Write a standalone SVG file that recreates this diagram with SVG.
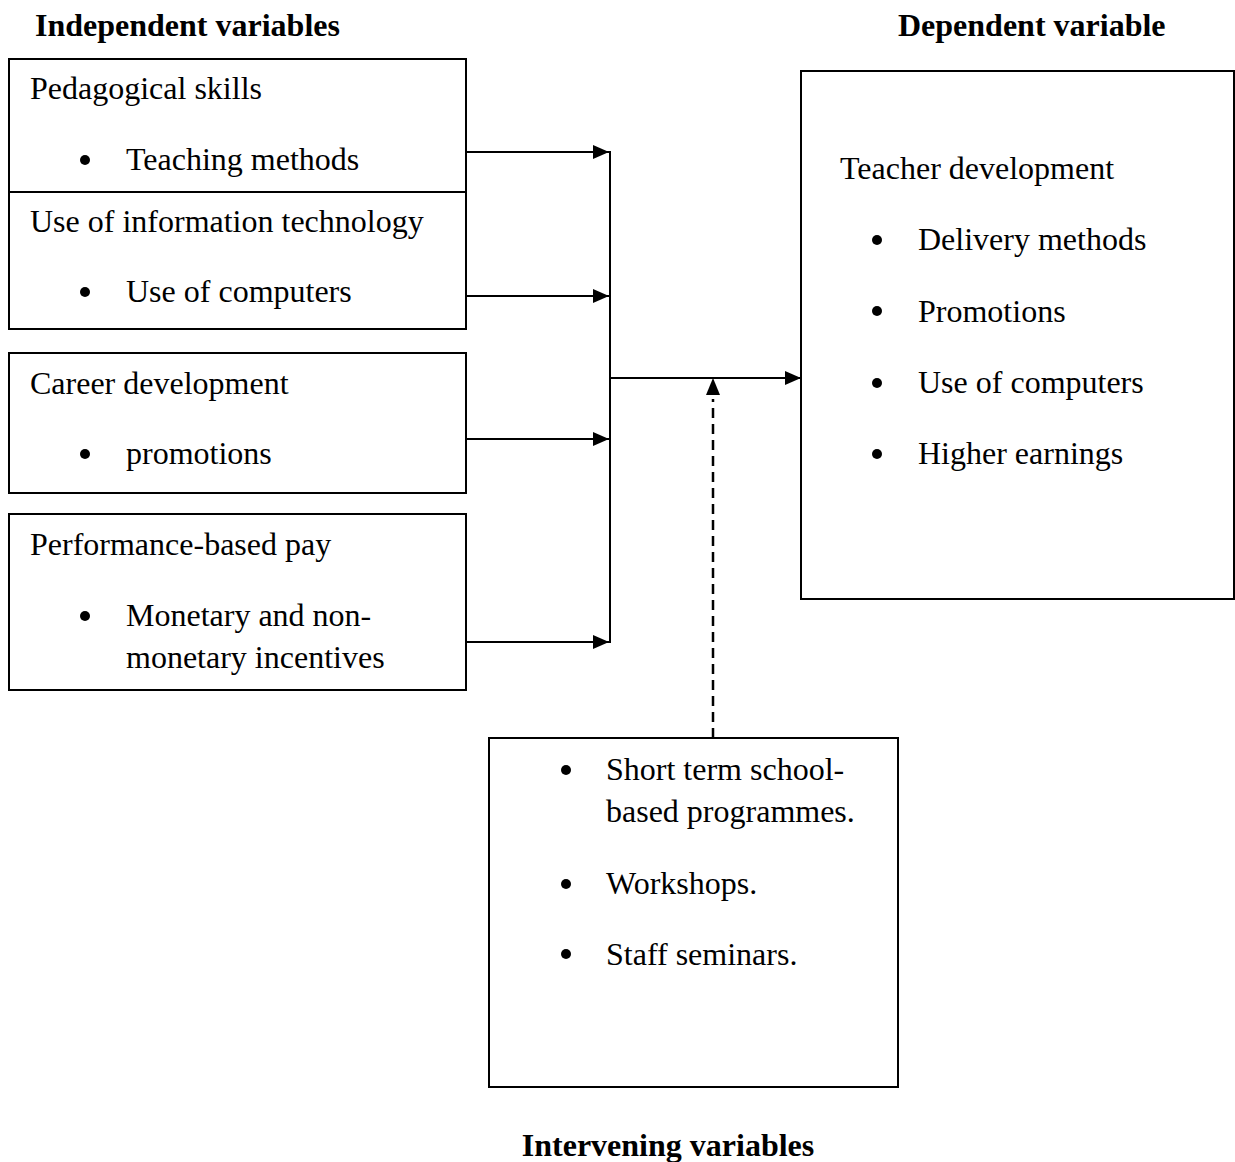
<svg xmlns="http://www.w3.org/2000/svg" width="1235" height="1162" viewBox="0 0 1235 1162">
<style>
text{font-family:"Liberation Serif","Times New Roman",serif;font-size:32px;fill:#000}
.h{font-weight:bold}
.box{fill:#fff;stroke:#000;stroke-width:2}
.ln{fill:none;stroke:#000;stroke-width:2}
.dash{fill:none;stroke:#000;stroke-width:2.5;stroke-dasharray:10,6}
</style>
<defs>
<marker id="ah" markerWidth="16" markerHeight="14" refX="16" refY="7" orient="auto" markerUnits="userSpaceOnUse">
<path d="M0,0 L16,7 L0,14 Z" fill="#000"/>
</marker>
</defs>
<text class="h" x="35" y="36">Independent variables</text>
<text class="h" x="898" y="36">Dependent variable</text>
<text class="h" x="668" y="1156" text-anchor="middle">Intervening variables</text>
<g id="n1">
<rect class="box" x="9" y="59" width="457" height="133"/>
<text x="30" y="99">Pedagogical skills</text>
<circle cx="85" cy="160" r="5"/>
<text x="126" y="170">Teaching methods</text>
</g>
<g id="n2">
<rect class="box" x="9" y="192" width="457" height="137"/>
<text x="30" y="232">Use of information technology</text>
<circle cx="85" cy="292" r="5"/>
<text x="126" y="302">Use of computers</text>
</g>
<g id="n3">
<rect class="box" x="9" y="353" width="457" height="140"/>
<text x="30" y="394">Career development</text>
<circle cx="85" cy="454" r="5"/>
<text x="126" y="464">promotions</text>
</g>
<g id="n4">
<rect class="box" x="9" y="514" width="457" height="176"/>
<text x="30" y="555">Performance-based pay</text>
<circle cx="85" cy="616" r="5"/>
<text x="126" y="626">Monetary and non-</text>
<text x="126" y="668">monetary incentives</text>
</g>
<g id="n5">
<rect class="box" x="801" y="71" width="433" height="528"/>
<text x="840" y="179">Teacher development</text>
<circle cx="877" cy="240" r="5"/>
<text x="918" y="250">Delivery methods</text>
<circle cx="877" cy="311" r="5"/>
<text x="918" y="322">Promotions</text>
<circle cx="877" cy="383" r="5"/>
<text x="918" y="393">Use of computers</text>
<circle cx="877" cy="454" r="5"/>
<text x="918" y="464">Higher earnings</text>
</g>
<g id="n6">
<rect class="box" x="489" y="738" width="409" height="349"/>
<circle cx="566" cy="770" r="5"/>
<text x="606" y="780">Short term school-</text>
<text x="606" y="822">based programmes.</text>
<circle cx="566" cy="884" r="5"/>
<text x="606" y="894">Workshops.</text>
<circle cx="566" cy="954" r="5"/>
<text x="606" y="965">Staff seminars.</text>
</g>
<g id="connectors">
<line class="ln" x1="466" y1="152" x2="609" y2="152" marker-end="url(#ah)"/>
<line class="ln" x1="466" y1="296" x2="609" y2="296" marker-end="url(#ah)"/>
<line class="ln" x1="466" y1="439" x2="609" y2="439" marker-end="url(#ah)"/>
<line class="ln" x1="466" y1="642" x2="609" y2="642" marker-end="url(#ah)"/>
<line class="ln" x1="610" y1="151" x2="610" y2="643"/>
<line class="ln" x1="610" y1="378" x2="801" y2="378" marker-end="url(#ah)"/>
<line class="dash" x1="713" y1="738" x2="713" y2="399"/>
<path d="M706,395 L713,378 L720,395 Z" fill="#000"/>
</g>
</svg>
